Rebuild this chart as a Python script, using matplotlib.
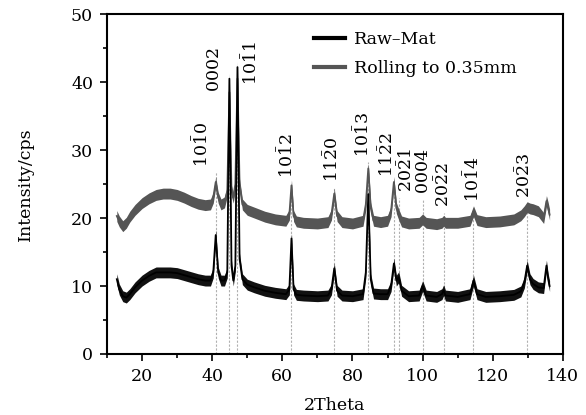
import matplotlib
matplotlib.use("Agg")
import matplotlib.pyplot as plt
import numpy as np

plt.rcParams['font.family'] = ['DejaVu Serif']
plt.rcParams['mathtext.fontset'] = 'dejavuserif'

# 2theta sample points
two_theta = [12.8, 13.5, 14.5, 15.5, 16.5, 18, 20, 22, 24, 26, 28, 30, 32, 34, 36, 38,
             39.5, 40.3, 41, 41.7, 42.5, 43.5, 44.3, 44.9, 45.5, 46, 46.6, 47.2, 47.8,
             48.6, 50, 52, 55, 58, 61, 62, 62.6, 63.2, 64, 66, 70, 73, 74, 74.8, 75.6,
             77, 80, 83, 83.8, 84.5, 85.2, 86, 88, 90, 91, 91.8, 92.5, 93.2, 94, 96, 99,
             100, 101, 104, 105.5, 106, 106.5, 110, 113.5, 114.5, 115.5, 118, 122, 126,
             128, 129, 129.8, 130.6, 131.5, 133, 134.5, 135.3, 135.8, 136.2]

raw_mat = [11, 9.5, 8.5, 8.3, 8.8, 9.8, 10.8, 11.5, 12, 12, 12, 11.9, 11.6, 11.3, 11, 10.8,
           10.8, 12, 17.5, 12, 10.8, 10.8, 12, 40.5, 13, 10.8, 13, 42.2, 14,
           11, 10.2, 9.8, 9.3, 9, 8.8, 9.5, 17, 9.5, 8.7, 8.6, 8.5, 8.6, 9.5, 12.6, 9.3,
           8.6, 8.5, 8.8, 12, 23.5, 11, 8.9, 8.8, 8.8, 10, 13.3, 10.8, 11.3, 9.3, 8.5, 8.6,
           10, 8.6, 8.4, 8.8, 9.4, 8.6, 8.4, 8.8, 10.8, 8.8, 8.4, 8.5, 8.7,
           9.2, 10.5, 13, 11, 10.3, 9.8, 9.7, 13, 11, 10]

rolling = [20.3, 19.5, 18.8, 19.3, 20.2, 21.2, 22.2, 22.9, 23.4, 23.6, 23.6, 23.4, 23, 22.5, 22.1, 21.9,
           22, 23, 25.3, 23, 22, 22.3, 24, 38.5, 24, 23, 25, 40.5, 25,
           22, 21.2, 20.8, 20.2, 19.8, 19.6, 20.5, 24.8, 20.3, 19.5, 19.3, 19.2, 19.4, 20.5, 23.6, 20.3,
           19.4, 19.2, 19.6, 22, 27.3, 21.5, 19.6, 19.4, 19.6, 21, 25.3, 21.5, 20.5, 19.5, 19.2, 19.3,
           19.8, 19.3, 19.1, 19.3, 19.6, 19.3, 19.3, 19.6, 21, 19.7, 19.4, 19.5, 19.8,
           20.4, 21, 21.6, 21.4, 21.3, 21, 20, 22.5, 21.5, 20.5]

# peak positions, labels, label x and label bottom
peak_pos = [41, 44.9, 47.2, 62.6, 74.8, 84.5, 91.8, 93.2, 100, 106, 114.5, 129.8]
peak_lab = [r'$10\bar{1}0$', r'$0002$', r'$10\bar{1}1$', r'$10\bar{1}2$', r'$11\bar{2}0$',
            r'$10\bar{1}3$', r'$11\bar{2}2$', r'$20\bar{2}1$', r'$0004$', r'$20\bar{2}2$',
            r'$10\bar{1}4$', r'$20\bar{2}3$']
lab_x = [37.0, 40.6, 51.0, 61.4, 74.4, 83.0, 90.0, 95.4, 100.3, 106.0, 114.5, 129.0]
lab_y = [27.5, 38.5, 39.6, 25.9, 25.3, 29.0, 26.0, 23.8, 23.6, 21.6, 22.3, 23.0]

x = np.array(two_theta)
y1 = np.array(raw_mat)
y2 = np.array(rolling)

fig = plt.figure(figsize=(5.86, 4.15), dpi=100)
ax = fig.add_axes([0.1826, 0.147, 0.778, 0.819])

for p, ly in zip(peak_pos, lab_y):
    ax.plot([p, p], [0, ly - 0.8], color='#b0b0b0', lw=0.8, ls=(0, (2, 1.5)), zorder=1)

# noise band + trace
ax.fill_between(x, y2 - 0.8, y2 + 0.8, color='#555555', lw=0, zorder=2)
ax.plot(x, y2, color='#555555', lw=1.3, zorder=2, label='Rolling to 0.35mm')
ax.fill_between(x, y1 - 0.8, y1 + 0.8, color='#111111', lw=0, zorder=3)
ax.plot(x, y1, color='#000000', lw=1.3, zorder=3, label='Raw\u2013Mat')

for lx, ly, t in zip(lab_x, lab_y, peak_lab):
    ax.text(lx, ly, t, rotation=90, ha='center', va='bottom', fontsize=12.5)

ax.set_xlim(10, 140)
ax.set_ylim(0, 50)
ax.set_xticks(np.arange(20, 141, 20))
ax.set_xticks(np.arange(10, 141, 10), minor=True)
ax.set_yticks(np.arange(0, 51, 10))
ax.set_yticks(np.arange(0, 51, 5), minor=True)
ax.tick_params(direction='out', labelsize=12.5, width=1.2, length=5, pad=5)
ax.tick_params(which='minor', direction='out', width=1.2, length=3)
for s in ax.spines.values():
    s.set_linewidth(1.5)
ax.set_xlabel('2Theta', fontsize=12.5, labelpad=9)
ax.set_ylabel('Intensity/cps', fontsize=12.5, labelpad=27)

h, l = ax.get_legend_handles_labels()
leg = ax.legend(h[::-1], l[::-1], loc='upper left', bbox_to_anchor=(0.42, 0.995),
                frameon=False, fontsize=12.5, handlelength=1.8, handletextpad=0.5,
                labelspacing=0.65)
for ln in leg.get_lines():
    ln.set_linewidth(3)

fig.savefig('out.png', dpi=100)
